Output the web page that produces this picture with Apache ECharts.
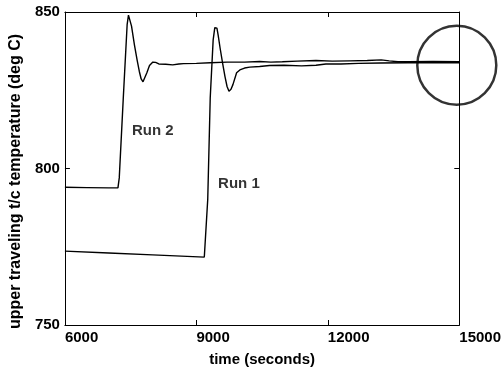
<!DOCTYPE html>
<html>
<head>
<meta charset="utf-8">
<script src="https://cdn.jsdelivr.net/npm/echarts@6/dist/echarts.min.js"></script>
<style>
html,body{margin:0;padding:0;background:#fff;}
#chart{width:504px;height:372px;}
</style>
</head>
<body>
<div id="chart"></div>
<script>
// x: time (seconds), y: temperature (deg C)
var xTicks = [6000, 9000, 12000, 15000];
var yTicks = [750, 800, 850];

var run2 = [
  [6000, 794.0], [6500, 793.9], [7000, 793.8], [7210, 793.8], [7240, 797.0],
  [7330, 822.0], [7420, 846.0], [7450, 849.0], [7466, 849.4], [7485, 849.0],
  [7520, 845.5], [7586, 839.5], [7650, 834.5], [7698, 831.0], [7740, 828.6],
  [7782, 827.7], [7820, 828.3], [7870, 830.6], [7930, 832.9], [8007, 834.0],
  [8070, 833.9], [8143, 833.4], [8300, 833.3], [8459, 833.1], [8600, 833.4],
  [8707, 833.5], [9000, 833.6], [9316, 833.8], [9700, 834.0], [10100, 834.0],
  [10444, 834.2], [10700, 834.0], [10962, 834.1], [11300, 834.3], [11729, 834.5],
  [12100, 834.3], [12500, 834.4], [12900, 834.5], [13218, 834.7], [13400, 834.4],
  [13601, 834.1], [13827, 834.1], [14400, 834.2], [15000, 834.1]
];

var run1 = [
  [6000, 773.6], [7000, 773.0], [8000, 772.4], [9181, 771.7], [9259, 790.1],
  [9316, 822.6], [9383, 841.1], [9420, 845.0], [9445, 845.6], [9470, 844.8],
  [9496, 842.7], [9541, 838.5], [9600, 833.5], [9654, 829.3], [9700, 826.2],
  [9744, 824.7], [9790, 825.3], [9834, 826.8], [9918, 830.6], [9992, 831.5],
  [10100, 832.1], [10218, 832.4], [10444, 832.6], [10669, 832.9], [11000, 833.0],
  [11400, 832.8], [11729, 833.0], [11955, 833.4], [12300, 833.4], [12699, 833.6],
  [13200, 833.7], [13827, 833.8], [14400, 833.8], [15000, 833.8]
];

var runLabels = [[8007, 812.1, 'Run 2'], [9970, 795.2, 'Run 1']];
var highlight = [[14943, 833.0]];

var FONT = '"Liberation Sans", Arial, sans-serif';
var chart = echarts.init(document.getElementById('chart'), null, {renderer: 'canvas'});

function fmt(v) { return String(v); }

function baseX(pos, showLabels) {
  return {
    type: 'value', position: pos,
    min: xTicks[0], max: xTicks[xTicks.length - 1], interval: xTicks[1] - xTicks[0],
    axisLine: {show: true, onZero: false, lineStyle: {color: '#000', width: 1}},
    axisTick: {show: true, inside: true, length: 5, lineStyle: {color: '#000'}},
    axisLabel: {show: showLabels, align: 'left', margin: 5, formatter: fmt,
                color: '#000', fontFamily: FONT, fontWeight: 'bold', fontSize: 15},
    splitLine: {show: false}
  };
}
function baseY(pos, showLabels) {
  return {
    type: 'value', position: pos,
    min: yTicks[0], max: yTicks[yTicks.length - 1], interval: yTicks[1] - yTicks[0],
    axisLine: {show: true, onZero: false, lineStyle: {color: '#000', width: 1}},
    axisTick: {show: true, inside: true, length: 5, lineStyle: {color: '#000'}},
    axisLabel: {show: showLabels, margin: 5, formatter: fmt,
                color: '#000', fontFamily: FONT, fontWeight: 'bold', fontSize: 15},
    splitLine: {show: false}
  };
}

var xb = baseX('bottom', true);
xb.name = 'time (seconds)';
xb.nameLocation = 'middle';
xb.nameGap = 27;
xb.nameTextStyle = {color: '#000', fontFamily: FONT, fontWeight: 'bold', fontSize: 15};
var xt = baseX('top', false);

var yl = baseY('left', true);
yl.name = 'upper traveling t/c temperature (deg C)';
yl.nameLocation = 'middle';
yl.nameGap = 35;
yl.nameTextStyle = {color: '#000', fontFamily: FONT, fontWeight: 'bold', fontSize: 16, padding: [0, 26, 0, 0]};
var yr = baseY('right', false);

chart.setOption({
  backgroundColor: '#fff',
  animation: false,
  grid: {left: 63, right: 42, top: 12, bottom: 46, containLabel: false},
  xAxis: [xb, xt],
  yAxis: [yl, yr],
  series: [
    {type: 'line', data: run2, symbol: 'none', lineStyle: {color: '#000', width: 1.4}, xAxisIndex: 0, yAxisIndex: 0},
    {type: 'line', data: run1, symbol: 'none', lineStyle: {color: '#000', width: 1.4}, xAxisIndex: 0, yAxisIndex: 0},
    {type: 'scatter', data: runLabels, symbolSize: 0, xAxisIndex: 0, yAxisIndex: 0,
     label: {show: true, position: 'inside', formatter: function (p) { return p.data[2]; },
             color: '#000', fontFamily: FONT, fontWeight: 'bold', fontSize: 15}},
    {type: 'scatter', data: highlight, symbol: 'circle', symbolSize: 79, clip: false, xAxisIndex: 0, yAxisIndex: 0,
     itemStyle: {color: 'rgba(0,0,0,0)', borderColor: '#000', borderWidth: 2.5}}
  ]
});
</script>
</body>
</html>
